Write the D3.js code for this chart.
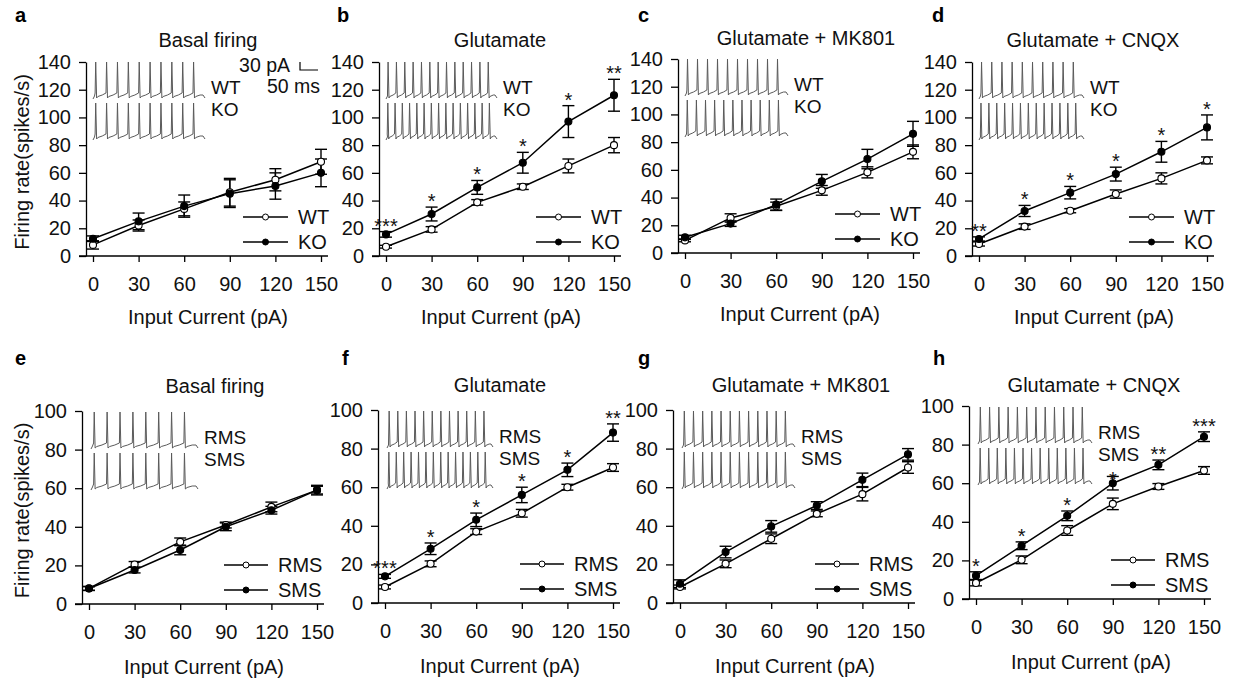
<!DOCTYPE html>
<html>
<head>
<meta charset="utf-8">
<script src="https://cdn.jsdelivr.net/npm/d3@7"></script>
<style>
body { margin: 0; background: #fff; }
svg { display: block; font-family: "Liberation Sans", Arial, sans-serif; }
</style>
</head>
<body>
<svg id="chart" width="1237" height="683"></svg>
<script>
// ---- data ----
var currents = [0, 30, 60, 90, 120, 150];
var yTicksTop = [0, 20, 40, 60, 80, 100, 120, 140];
var yTicksBottom = [0, 20, 40, 60, 80, 100];

var panelLetters = ['a', 'b', 'c', 'd', 'e', 'f', 'g', 'h'];
var panelTitles = ['Basal firing', 'Glutamate', 'Glutamate + MK801', 'Glutamate + CNQX',
                   'Basal firing', 'Glutamate', 'Glutamate + MK801', 'Glutamate + CNQX'];
var groupsTop = ['WT', 'KO'];
var groupsBottom = ['RMS', 'SMS'];

// open circles = WT / RMS, filled = KO / SMS
var aOpen = [8, 22, 34, 46, 55, 68],      aOpenErr = [3, 4, 5, 10, 8, 9];
var aFilled = [12.5, 25, 36, 45, 50.5, 60], aFilledErr = [2, 6, 8, 10, 9.5, 10];
var bOpen = [6.7, 19.2, 38.7, 50, 65, 80],   bOpenErr = [1, 2, 2, 2, 5, 5.5];
var bFilled = [15.6, 30.3, 49.5, 67.3, 97, 116], bFilledErr = [2, 5, 5, 7.5, 11.5, 11.5];
var cOpen = [9.1, 25.3, 33.7, 45.2, 58.2, 73], cOpenErr = [1, 3, 3, 3.5, 4, 5];
var cFilled = [11.3, 21.2, 34.9, 51.7, 67.8, 86], cFilledErr = [1.5, 2, 4, 5, 7, 9];
var dOpen = [8.7, 21.2, 32.7, 44.7, 56, 69],  dOpenErr = [1.5, 2, 1.5, 3, 4, 2.5];
var dFilled = [12.3, 32.5, 45.7, 59.1, 75.2, 92.8], dFilledErr = [1.5, 4, 4.5, 5, 7.5, 9];
var eOpen = [8.1, 20.5, 32.2, 40.9, 50.3, 59], eOpenErr = [1, 1.5, 2, 1.5, 2.5, 2];
var eFilled = [8, 17.6, 28, 40, 48.6, 59],    eFilledErr = [1, 1.5, 2.5, 2, 2, 2.5];
var fOpen = [8.3, 20.3, 37, 46.5, 60, 70.2],  fOpenErr = [1, 1.5, 1.5, 2, 1.5, 2];
var fFilled = [13.8, 28.1, 43.1, 56, 69, 88.3], fFilledErr = [1, 3, 3.5, 4, 3.5, 4.5];
var gOpen = [8.3, 20.3, 33.3, 46.2, 56.4, 70.2], gOpenErr = [1, 2, 2.5, 1.5, 3.5, 3];
var gFilled = [10, 26.4, 39.7, 50.5, 63.8, 77], gFilledErr = [2, 3, 3, 2, 3.5, 3];
var hOpen = [8.3, 20.3, 35.5, 49.3, 58.3, 66.6], hOpenErr = [1.5, 2, 2.5, 3, 1.5, 2];
var hFilled = [12.1, 27.6, 43.1, 60, 69.5, 84.1], hFilledErr = [2, 2, 2.5, 3.5, 2.5, 2.5];

// significance marks above the filled series
var bStars = ['***', '*', '*', '*', '*', '**'];
var dStars = ['**', '*', '*', '*', '*', '*'];
var fStars = ['***', '*', '*', '*', '*', '**'];
var hStars = ['*', '*', '*', '*', '**', '***'];

// spikes counted in the example traces (upper trace, lower trace)
var spikeCounts = [[10, 10], [13, 15], [10, 11], [10, 13], [8, 8], [12, 14], [12, 12], [12, 13]];

var panels = [
  {open: aOpen, openErr: aOpenErr, filled: aFilled, filledErr: aFilledErr, stars: null},
  {open: bOpen, openErr: bOpenErr, filled: bFilled, filledErr: bFilledErr, stars: bStars},
  {open: cOpen, openErr: cOpenErr, filled: cFilled, filledErr: cFilledErr, stars: null},
  {open: dOpen, openErr: dOpenErr, filled: dFilled, filledErr: dFilledErr, stars: dStars},
  {open: eOpen, openErr: eOpenErr, filled: eFilled, filledErr: eFilledErr, stars: null},
  {open: fOpen, openErr: fOpenErr, filled: fFilled, filledErr: fFilledErr, stars: fStars},
  {open: gOpen, openErr: gOpenErr, filled: gFilled, filledErr: gFilledErr, stars: null},
  {open: hOpen, openErr: hOpenErr, filled: hFilled, filledErr: hFilledErr, stars: hStars}
];

// ---- layout ----
var axisX = [86, 379, 678, 972, 82, 378, 673, 969];
var plotTop = [62, 62, 59, 62, 411, 410, 410, 406];
var plotBottom = [256, 256, 253, 256, 604, 603, 603, 599];
var letterX = [15, 337, 638, 932, 15, 342, 638, 933];
var letterY = [22, 22, 22, 22, 365, 365, 365, 365];
var titleDx = [122, 121, 128, 121, 133, 122, 128, 125];
var titleY = [47, 47, 45, 47, 393, 392, 392, 392];
var insetW = [112, 111, 103, 105, 107, 106, 113, 114];
var starNudge = {7: [0, 0, 0, 9, 0, 0]}; // panel h: the 90 pA mark sits lower, under "SMS"
var FS = 20;

var svg = d3.select('#chart');
svg.append('rect').attr('width', 1237).attr('height', 683).attr('fill', '#fff');

function tracePoints(x0, w, yTop, yBase, n) {
  var pts = [[x0, yBase + 2], [x0 + 1.5, yBase - 1]];
  var step = w / (n + 0.3);
  for (var i = 0; i < n; i++) {
    var xs = x0 + step * (i + 0.25);
    pts.push([xs - 0.6, yBase - 4]);
    pts.push([xs, yTop]);
    pts.push([xs + 0.9, yBase + 1]);
    pts.push([xs + step * 0.2, yBase - 0.5]);
    pts.push([xs + step * 0.6, yBase - 2]);
  }
  pts.push([x0 + w - 2, yBase - 2]);
  pts.push([x0 + w, yBase + 1]);
  return pts;
}

var traceLine = d3.line();

panels.forEach(function(p, i) {
  var bottomRow = i >= 4;
  var ax = axisX[i], top = plotTop[i], bot = plotBottom[i];
  var g = svg.append('g');
  var x = d3.scalePoint().domain(currents).range([ax + 7, ax + 235]);
  var y = d3.scaleLinear().domain([0, bottomRow ? 100 : 140]).range([bot, top]);

  // axes
  var yAxis = g.append('g').attr('transform', 'translate(' + ax + ',0)')
    .call(d3.axisLeft(y).tickValues(bottomRow ? yTicksBottom : yTicksTop)
      .tickSize(7).tickSizeOuter(0).tickPadding(8));
  var xAxis = g.append('g').attr('transform', 'translate(0,' + bot + ')')
    .call(d3.axisBottom(x).tickSize(6).tickPadding(15));
  xAxis.select('.domain').remove();
  g.append('line').attr('x1', ax - 7).attr('x2', x(150) + 7)
    .attr('y1', bot).attr('y2', bot).attr('stroke', '#000').attr('stroke-width', 1.3);
  [yAxis, xAxis].forEach(function(a) {
    a.selectAll('text').attr('font-size', FS).attr('fill', '#111')
      .attr('font-family', '"Liberation Sans", Arial, sans-serif');
    a.selectAll('line,path').attr('stroke', '#000').attr('stroke-width', 1.3);
  });

  // titles and labels
  g.append('text').attr('x', letterX[i]).attr('y', letterY[i])
    .attr('font-size', 20).attr('font-weight', 'bold').text(panelLetters[i]);
  g.append('text').attr('x', ax + titleDx[i]).attr('y', titleY[i])
    .attr('text-anchor', 'middle').attr('font-size', FS).attr('fill', '#111').text(panelTitles[i]);
  g.append('text').attr('x', ax + 122).attr('y', bot + (bottomRow ? 70 : 68))
    .attr('text-anchor', 'middle').attr('font-size', FS).attr('fill', '#111')
    .text('Input Current (pA)');
  if (i % 4 === 0) {
    g.append('text').attr('transform', 'translate(29,' + ((top + bot) / 2 + 3) + ') rotate(-90)')
      .attr('text-anchor', 'middle').attr('font-size', FS).attr('fill', '#111')
      .text('Firing rate(spikes/s)');
  }

  // inset traces
  var names = bottomRow ? groupsBottom : groupsTop;
  var tx0 = ax + (bottomRow ? 9 : 7);
  var tTop = top + (bottomRow ? 1 : 0);
  spikeCounts[i].forEach(function(n, k) {
    var yT = tTop + k * 41, yB = yT + 35;
    g.append('path').attr('d', traceLine(tracePoints(tx0, insetW[i], yT, yB, n)))
      .attr('fill', 'none').attr('stroke', '#5a5a5a').attr('stroke-width', 1);
    g.append('text').attr('x', tx0 + insetW[i] + 6).attr('y', tTop + 32 + k * 22)
      .attr('font-size', 19).attr('fill', '#111').text(names[k]);
  });
  if (i === 0) {
    g.append('text').attr('x', 290).attr('y', 72).attr('text-anchor', 'end')
      .attr('font-size', 19.5).attr('fill', '#111').text('30 pA');
    g.append('text').attr('x', 267).attr('y', 93)
      .attr('font-size', 19.5).attr('fill', '#111').text('50 ms');
    g.append('path').attr('d', 'M300,62V70H318').attr('fill', 'none')
      .attr('stroke', '#000').attr('stroke-width', 1.2);
  }

  // series
  var line = d3.line().x(function(d, j) { return x(currents[j]); }).y(function(d) { return y(d); });
  var series = [
    {vals: p.open, err: p.openErr, fill: '#fff'},
    {vals: p.filled, err: p.filledErr, fill: '#000'}
  ];
  series.forEach(function(s) {
    g.append('path').attr('d', line(s.vals)).attr('fill', 'none')
      .attr('stroke', '#000').attr('stroke-width', 1.5);
  });
  series.forEach(function(s) {
    var eb = g.append('g').attr('stroke', '#000').attr('stroke-width', 1.4);
    s.vals.forEach(function(v, j) {
      var cx = x(currents[j]);
      var y1 = y(v + s.err[j]), y2 = y(v - s.err[j]);
      eb.append('line').attr('x1', cx).attr('x2', cx).attr('y1', y1).attr('y2', y2);
      eb.append('line').attr('x1', cx - 6).attr('x2', cx + 6).attr('y1', y1).attr('y2', y1);
      eb.append('line').attr('x1', cx - 6).attr('x2', cx + 6).attr('y1', y2).attr('y2', y2);
    });
  });
  series.forEach(function(s) {
    g.selectAll(null).data(s.vals).enter().append('circle')
      .attr('cx', function(d, j) { return x(currents[j]); })
      .attr('cy', function(d) { return y(d); })
      .attr('r', 3.5).attr('fill', s.fill).attr('stroke', '#000').attr('stroke-width', 1.1);
  });

  if (p.stars) {
    var nudge = starNudge[i] || [0, 0, 0, 0, 0, 0];
    g.selectAll(null).data(p.stars).enter().append('text')
      .attr('x', function(d, j) { return x(currents[j]); })
      .attr('y', function(d, j) { return y(p.filled[j] + p.filledErr[j]) + 1 + nudge[j]; })
      .attr('text-anchor', 'middle').attr('font-size', 20).attr('fill', '#111')
      .text(function(d) { return d; });
  }

  // legend
  var lx0 = ax + (bottomRow ? 142 : 157), lx1 = ax + (bottomRow ? 186 : 202);
  [bot - 39, bot - 14].forEach(function(ly, k) {
    g.append('line').attr('x1', lx0).attr('x2', lx1).attr('y1', ly).attr('y2', ly)
      .attr('stroke', '#000').attr('stroke-width', 1.4);
    g.append('circle').attr('cx', (lx0 + lx1) / 2).attr('cy', ly).attr('r', 3)
      .attr('fill', k === 0 ? '#fff' : '#000').attr('stroke', '#000').attr('stroke-width', 1);
    g.append('text').attr('x', lx1 + 10).attr('y', ly).attr('dy', '0.36em')
      .attr('font-size', 20).attr('fill', '#111').text(names[k]);
  });
});
</script>
</body>
</html>
